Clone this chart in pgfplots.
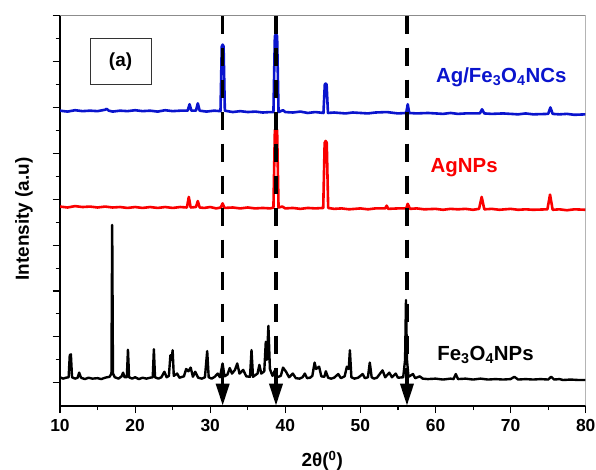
\documentclass[border=0pt]{standalone}
\usepackage{fontspec}
\setmainfont{Liberation Sans}
\usepackage{pgfplots}
\pgfplotsset{compat=1.18}
\usetikzlibrary{arrows.meta,calc}
\definecolor{xblue}{RGB}{10,20,205}
\definecolor{xred}{RGB}{250,0,0}

\begin{document}
\begin{tikzpicture}
\begin{axis}[
    scale only axis,
    width=525.7bp, height=390bp,
    xmin=10, xmax=80, ymin=-0.5, ymax=8,
    axis lines*=left,
    axis line style={-, line width=1.6bp, black},
    xtick={10,20,...,80}, minor x tick num=1,
    ytick={0,...,8}, minor y tick num=1, yticklabels={},
    tick align=outside,
    major tick length=7.5bp, minor tick length=4.5bp,
    every tick/.style={black, line width=1.1bp},
    /pgf/number format/assume math mode=true,
    xticklabel style={font=\fontsize{17.5}{20}\selectfont\bfseries, anchor=base, yshift=-18bp},
    clip=true,
]
% Fe3O4NPs
\addplot[black, line width=2.4bp, line join=round] coordinates {
(10,0.12)(10.4,0.09)(10.8,0.11)(11.15,0.12)(11.3,0.6)(11.45,0.62)(11.6,0.12)(12.0,0.09)(12.35,0.11)
(12.55,0.22)(12.8,0.11)(13.3,0.08)(13.8,0.11)(14.3,0.09)(15,0.1)(15.5,0.08)(16,0.11)(16.6,0.13)
(16.85,0.2)(16.95,3.44)(17.05,0.2)(17.3,0.12)(17.8,0.09)(18.2,0.14)(18.4,0.22)(18.6,0.12)(18.9,0.12)
(19.05,0.72)(19.2,0.12)(19.6,0.09)(20,0.12)(20.5,0.08)(21,0.11)(21.5,0.09)(22,0.11)(22.35,0.12)
(22.5,0.73)(22.65,0.12)(23.1,0.09)(23.5,0.12)(23.9,0.24)(24.2,0.12)(24.5,0.15)(24.7,0.6)(24.85,0.5)
(25.0,0.71)(25.15,0.15)(25.6,0.2)(25.9,0.11)(26.5,0.14)(26.8,0.3)(27.1,0.25)(27.4,0.33)(27.7,0.13)
(28.0,0.24)(28.4,0.11)(28.9,0.09)(29.3,0.12)(29.6,0.69)(29.8,0.12)(30.2,0.09)(30.6,0.13)(31.0,0.2)
(31.3,0.12)(31.65,0.42)(31.9,0.14)(32.3,0.18)(32.6,0.32)(32.9,0.2)(33.3,0.28)(33.6,0.42)(33.9,0.2)
(34.4,0.28)(34.8,0.14)(35.3,0.13)(35.5,0.71)(35.7,0.13)(36.3,0.2)(36.55,0.39)(36.8,0.2)(37.2,0.25)
(37.4,0.89)(37.55,0.5)(37.75,1.24)(37.95,0.3)(38.3,0.15)(38.7,0.3)(38.9,0.12)(39.4,0.15)(39.7,0.33)
(40.1,0.24)(40.5,0.12)(41.0,0.2)(41.4,0.1)(41.9,0.09)(42.3,0.12)(42.6,0.2)(42.9,0.1)(43.3,0.11)
(43.6,0.15)(43.9,0.44)(44.1,0.3)(44.5,0.35)(44.8,0.14)(45.2,0.13)(45.4,0.25)(45.7,0.11)(46.1,0.09)
(46.5,0.11)(47.05,0.19)(47.4,0.1)(47.9,0.14)(48.2,0.35)(48.45,0.3)(48.6,0.71)(48.8,0.12)(49.2,0.09)
(49.7,0.11)(50.3,0.19)(50.6,0.1)(51.0,0.12)(51.25,0.44)(51.5,0.12)(51.8,0.09)(52.2,0.11)(52.95,0.27)
(53.3,0.12)(53.85,0.22)(54.2,0.12)(54.7,0.2)(55.0,0.11)(55.7,0.12)(55.95,0.5)(56.07,1.8)(56.2,0.5)
(56.4,0.13)(57.0,0.19)(57.3,0.1)(57.9,0.14)(58.3,0.09)(59,0.08)(60,0.09)(61,0.07)(62,0.09)(62.4,0.08)
(62.7,0.19)(63,0.08)(64,0.09)(65,0.07)(66,0.09)(67,0.07)(68,0.08)(69,0.07)(70,0.08)(70.5,0.13)
(71,0.07)(72,0.08)(73,0.07)(74,0.08)(75.0,0.07)(75.4,0.13)(75.8,0.07)(76.5,0.08)(77,0.06)(78,0.07)
(79,0.06)(80,0.06)
};
% AgNPs
\addplot[xred, line width=2.6bp, line join=round] coordinates {
(10,3.84)(11,3.82)(12,3.85)(13,3.83)(14,3.84)(15,3.82)(16,3.84)(17,3.82)(18,3.83)(19,3.81)(20,3.83)
(21,3.81)(22,3.83)(23,3.81)(24,3.83)(25,3.81)(26,3.83)(26.9,3.82)(27.15,4.05)(27.4,3.82)(28.1,3.83)
(28.35,3.96)(28.6,3.82)(29.2,3.81)(30,3.83)(30.8,3.8)(31.4,3.82)(31.65,3.91)(31.9,3.81)(33,3.82)
(34,3.8)(35,3.82)(36,3.8)(37,3.81)(38,3.8)(38.42,3.82)(38.61,5.5)(38.76,5.56)(38.91,5.5)(39.1,3.82)
(39.6,3.84)(40,3.8)(41,3.81)(42,3.79)(43,3.81)(44,3.8)(45.05,3.81)(45.24,5.23)(45.38,5.27)(45.52,5.23)
(45.71,3.81)(46.5,3.79)(47.5,3.8)(48.5,3.78)(50,3.8)(51,3.78)(52,3.8)(53.3,3.8)(53.5,3.86)(53.7,3.79)
(55,3.8)(56.1,3.8)(56.3,3.9)(56.6,3.79)(57.5,3.8)(58.5,3.78)(60,3.79)(61,3.77)(62,3.79)(63,3.78)
(64,3.79)(65,3.77)(65.8,3.79)(66.15,4.05)(66.5,3.78)(67.5,3.79)(68.5,3.77)(70,3.79)(71,3.77)(72,3.78)
(73,3.77)(74.9,3.78)(75.25,4.1)(75.6,3.77)(76.5,3.78)(77.5,3.76)(78.5,3.78)(80,3.77)
};
% Ag/Fe3O4NCs
\addplot[xblue, line width=2.6bp, line join=round] coordinates {
(10,5.93)(11,5.91)(12,5.94)(13,5.92)(14,5.93)(15,5.92)(16,5.95)(16.2,5.97)(16.5,5.93)(17,5.91)
(18,5.93)(19,5.92)(20,5.94)(21,5.92)(22,5.93)(23,5.91)(24,5.94)(25,5.92)(26,5.93)(27.0,5.93)
(27.25,6.07)(27.5,5.93)(28.1,5.93)(28.35,6.09)(28.6,5.93)(29.5,5.91)(30.5,5.93)(31.37,5.92)
(31.54,7.33)(31.66,7.37)(31.78,7.33)(31.95,5.93)(33,5.9)(34,5.92)(35,5.9)(36,5.91)(37,5.89)(38,5.9)
(38.42,5.9)(38.61,7.55)(38.76,7.6)(38.91,7.55)(39.1,5.9)(39.7,5.94)(40,5.9)(41,5.89)(42,5.91)
(43,5.88)(44,5.9)(45.08,5.88)(45.26,6.5)(45.38,6.52)(45.5,6.5)(45.68,5.88)(46.5,5.89)(48,5.87)
(49,5.89)(50,5.88)(51,5.87)(52,5.89)(53.5,5.9)(55,5.87)(56.1,5.88)(56.3,6.07)(56.5,5.88)(57.5,5.87)
(59,5.88)(60,5.87)(61,5.86)(62,5.88)(63,5.86)(64,5.87)(65.9,5.87)(66.2,5.96)(66.5,5.87)(67.5,5.86)
(69,5.87)(70,5.86)(71,5.85)(72,5.87)(73,5.85)(75.0,5.86)(75.3,6.0)(75.6,5.86)(76.5,5.85)(77.5,5.86)
(78.5,5.84)(80,5.85)
};
% reference lines with arrows
\foreach \xx in {31.66,38.76,56.2}{
  \edef\tmp{\noexpand\draw[black, line width=3.4bp, dash pattern=on 18bp off 14bp,
    -{Triangle[width=13bp,length=22bp]}] (axis cs:\xx,8) -- (axis cs:\xx,-0.5);}
  \tmp
}
\node[draw=black!80, line width=0.9bp, minimum width=61bp, minimum height=46bp,
  font=\fontsize{19}{22}\selectfont\bfseries] at (axis cs:18.06,7.0) {(a)};
\node[anchor=base, text=xblue, font=\fontsize{20.5}{24}\selectfont\bfseries, inner sep=0pt]
  at (axis cs:68.75,6.545) {Ag/Fe\textsubscript{3}O\textsubscript{4}NCs};
\node[anchor=base, text=xred, font=\fontsize{20.5}{24}\selectfont\bfseries, inner sep=0pt]
  at (axis cs:63.82,4.584) {AgNPs};
\node[anchor=base, text=black, font=\fontsize{20.5}{24}\selectfont\bfseries, inner sep=0pt]
  at (axis cs:66.66,0.479) {Fe\textsubscript{3}O\textsubscript{4}NPs};
\draw[black!45, line width=0.8bp] (rel axis cs:0,1) -- (rel axis cs:1,1) -- (rel axis cs:1,0);
\coordinate (sw) at (rel axis cs:0,0);
\coordinate (ne) at (rel axis cs:1,1);
\end{axis}
\node[rotate=90, font=\fontsize{19}{22}\selectfont\bfseries]
  at ($(sw)+(-36bp,186.7bp)$) {Intensity (a.u)};
\node[anchor=base, font=\fontsize{19}{22}\selectfont\bfseries]
  at ($(sw)+(262.3bp,-61bp)$) {2θ(\textsuperscript{0})};
\pgfresetboundingbox
\path ($(sw)+(-60bp,-64.3bp)$) rectangle ($(ne)+(10.3bp,15.7bp)$);
\end{tikzpicture}
\end{document}
